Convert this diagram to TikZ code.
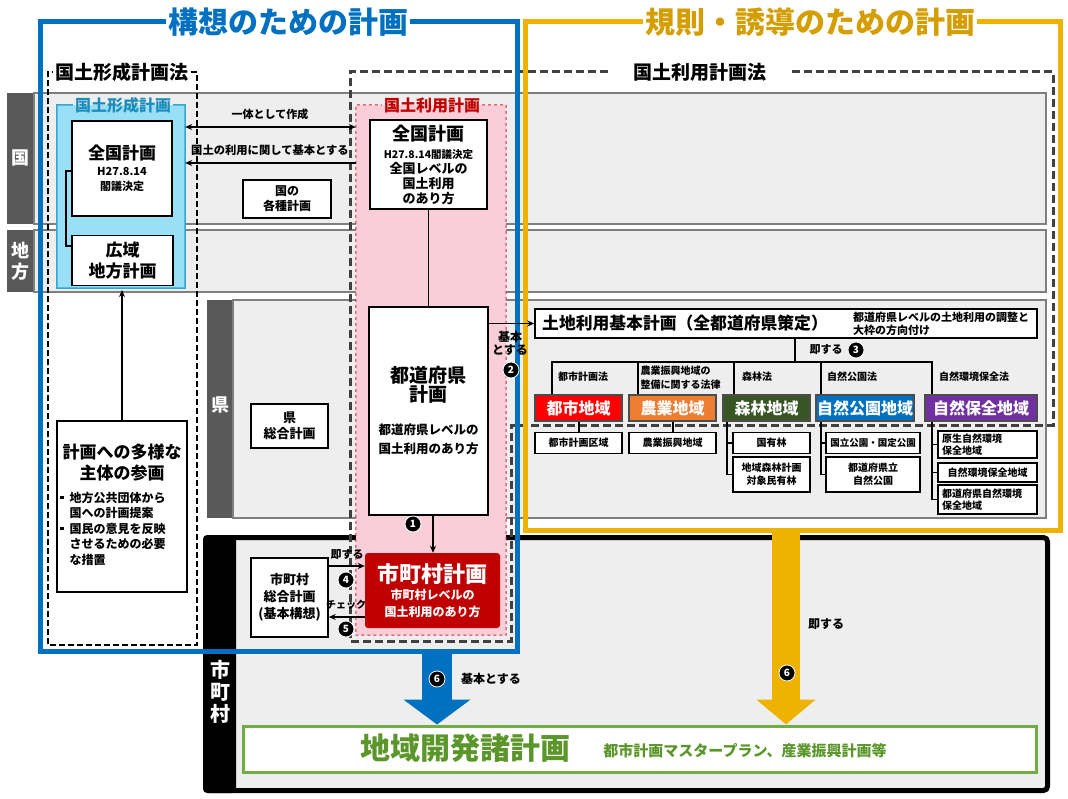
\documentclass[tikz,border=0pt]{standalone}
\usepackage{fontspec}
\setmainfont{Noto Sans CJK JP}
\usetikzlibrary{arrows.meta}
\definecolor{bblue}{HTML}{0070C0}
\definecolor{gold}{HTML}{EDB300}
\definecolor{goldtxt}{HTML}{D49E00}
\definecolor{bandfill}{HTML}{EEEEEE}
\definecolor{bandline}{HTML}{7F7F7F}
\definecolor{darklab}{HTML}{595959}
\definecolor{pinkfill}{HTML}{F9CED8}
\definecolor{pinkline}{HTML}{E0203C}
\definecolor{redttl}{HTML}{C00000}
\definecolor{cyanfill}{HTML}{99E0F7}
\definecolor{cyanline}{HTML}{2FA8D5}
\definecolor{cyanttl}{HTML}{1C8DBA}
\definecolor{dashgray}{HTML}{404040}
\definecolor{planred}{HTML}{C00000}
\definecolor{crimson}{HTML}{FF0000}
\definecolor{orng}{HTML}{ED7D31}
\definecolor{forest}{HTML}{375623}
\definecolor{purp}{HTML}{7030A0}
\definecolor{grn}{HTML}{70AD47}
\definecolor{grntxt}{HTML}{5A962A}
\newcommand\fz[2]{\fontsize{#1}{#2}\selectfont}
\begin{document}
\begin{tikzpicture}[x=1pt,y=-1pt,
 band/.style={draw=bandline, line width=1.5, fill=bandfill},
 rowlab/.style={text=white, font=\fz{18}{21}\bfseries, align=center, inner sep=0},
 box/.style={draw=black, line width=1.5, fill=white, align=center, inner sep=1},
 lbl/.style={font=\fz{11}{13}\bfseries, align=center, inner sep=0.5},
 cnum/.style={circle, fill=black, draw=white, line width=0.8, text=white, inner sep=0, minimum size=16, font=\fz{10}{10}\bfseries},
 conn/.style={draw=black, line width=1.3},
 arr/.style={conn, -{Stealth[length=7,width=6]}},
 dblarr/.style={conn, {Stealth[length=7,width=6]}-{Stealth[length=7,width=6]}},
 zone/.style={draw=black!70, line width=1.2, align=center, text=white, font=\fz{16}{18}\bfseries, inner sep=0},
 sub/.style={box, line width=1.2, font=\fz{10}{12}\bfseries, inner sep=0},
 ttl/.style={inner xsep=2, inner ysep=0},
]
\useasboundingbox (0,0) rectangle (1068,799);
\fill[white] (0,0) rectangle (1068,799);

% ---- bands
\fill[darklab] (7,93) rectangle (34,224);
\draw[band] (34,93) rectangle (1046,224);
\fill[darklab] (7,230) rectangle (34,292);
\draw[band] (34,230) rectangle (1046,292);
\fill[darklab] (207,300) rectangle (233,518);
\draw[band] (233,300) rectangle (1046,518);
\draw[line width=5, fill=bandfill, rounded corners=4] (205.5,537.5) rectangle (1047.5,790.5);
\fill[black, rounded corners=4] (203,535) rectangle (236,793);
\node[rowlab] (rKuni) at (20.5,158) {国};
\node[rowlab] (rChiho) at (20.5,261) {地\\方};
\node[rowlab] (rKen) at (220,405) {県};
\node[rowlab, font=\fz{20}{22}\bfseries] (rShi) at (220,692) {市\\町\\村};

% ---- regions
\node[fill=cyanfill, minimum width=128, minimum height=183, inner sep=0] (kfkreg) at (121,196.5) {};
\node[ttl, text=cyanttl, font=\fz{16}{18}\bfseries] (ttlC) at (123,105) {国土形成計画};
\draw[cyanline, line width=1.5] (ttlC.east) -| (kfkreg.south east) -| (kfkreg.north west) -- (ttlC.west);

\node[fill=pinkfill, minimum width=150, minimum height=530, inner sep=0] (pinkreg) at (431,370) {};
\node[ttl, text=redttl, font=\fz{16}{18}\bfseries] (ttlP) at (432,105) {国土利用計画};
\draw[pinkline, dashed, line width=1] (ttlP.east) -| (pinkreg.south east) -| (pinkreg.north west) -- (ttlP.west);

% ---- law frames
\node[ttl, font=\fz{19}{21}\bfseries] (lawA) at (122,72) {国土形成計画法};
\draw[black, line width=2, dash pattern=on 6pt off 3pt] (lawA.east) -| (197,645) -| (48,72) -- (lawA.west);
\node[ttl, inner xsep=25, font=\fz{19}{21}\bfseries] (lawB) at (700,72) {国土利用計画法};
\draw[dashgray, line width=3, dash pattern=on 8pt off 4pt] (lawB.east) -| (1053,425) -| (511,641) -| (350,72) -- (lawB.west);

% ---- main frames
\node[ttl, text=bblue, font=\fz{30}{32}\bfseries] (ttlA) at (288,22) {構想のための計画};
\draw[bblue, line width=5] (ttlA.east) -| (517,651) -| (40,22) -- (ttlA.west);
\node[ttl, text=goldtxt, font=\fz{30}{32}\bfseries] (ttlB) at (810,22) {規則・誘導のための計画};
\draw[gold, line width=5] (ttlB.east) -| (1060,530) -| (525,22) -- (ttlB.west);

% ---- left column
\node[box, minimum width=100, minimum height=95, font=\fz{11}{15}\bfseries] (zkL) at (122,168.5) {{\fz{17}{20}\selectfont 全国計画}\\[1pt]H27.8.14\\閣議決定};
\node[box, minimum width=101, minimum height=50, font=\fz{17}{21}\bfseries] (kouiki) at (122.5,260.5) {広域\\地方計画};
\draw[conn] (zkL.west |- 0,171) -| (66,246) -- (kouiki.west |- 0,246);
\node[box, minimum width=130, minimum height=171, inner sep=0] (tayou) at (122,506.5) {\begin{minipage}{124pt}\centering\fz{17}{21}\bfseries 計画への多様な\\主体の参画\par\vspace{9pt}\raggedright\fz{12}{15.5}\bfseries
\begin{tabular}{@{}l@{\hspace{6pt}}l@{}}\raisebox{3pt}{\rule{3.5pt}{3.5pt}} & 地方公共団体から\\ & 国への計画提案\\ \raisebox{3pt}{\rule{3.5pt}{3.5pt}} & 国民の意見を反映\\ & させるための必要\\ & な措置\end{tabular}\end{minipage}};
\coordinate (cyanB) at (122,290);
\draw[arr] (tayou.north) -- (cyanB);

% ---- national arrows
\draw[dblarr] (kfkreg.east |- 0,127) -- (pinkreg.west |- 0,127);
\node[lbl] (lIttai) at (270,114) {一体として作成};
\draw[arr] (pinkreg.west |- 0,163) -- (kfkreg.east |- 0,163);
\node[lbl, font=\fz{11.3}{13}\bfseries] (lKihon1) at (270,150) {国土の利用に関して基本とする};
\node[box, minimum width=88, minimum height=38, font=\fz{12}{15}\bfseries] (kakushu) at (287,199) {国の\\各種計画};

% ---- national land use plan column
\node[box, minimum width=117, minimum height=89, font=\fz{13}{15}\bfseries] (zkR) at (428.5,164.5) {{\fz{18}{20}\selectfont 全国計画}\\[3pt]{\fz{10.5}{12}\selectfont H27.8.14閣議決定}\\全国レベルの\\国土利用\\のあり方};
\node[box, minimum width=119, minimum height=208, font=\fz{12.5}{19}\bfseries] (todofuken) at (428.5,411) {{\fz{19}{22}\selectfont 都道府県}\\{\fz{19}{22}\selectfont 計画}\\[14pt]都道府県レベルの\\国土利用のあり方};
\draw[conn] (zkR.south) -- (todofuken.north);
\node[fill=planred, rounded corners=3, minimum width=135, minimum height=75, text=white, align=center, font=\fz{12}{17}\bfseries] (shichoson) at (432.5,590.5) {{\fz{22}{24}\selectfont 市町村計画}\\市町村レベルの\\国土利用のあり方};
\draw[arr] (todofuken.south -| 433,0) -- (shichoson.north -| 433,0);
\node[cnum] (n1) at (413,524) {1};

\node[box, minimum width=77, minimum height=44, font=\fz{13}{16}\bfseries] (kensougou) at (289.5,426) {県\\総合計画};
\node[box, minimum width=77, minimum height=79, font=\fz{13}{17}\bfseries] (sougou) at (289.5,597.5) {市町村\\総合計画\\(基本構想)};
\draw[arr] (sougou.east |- 0,566) -- (shichoson.west |- 0,566);
\draw[arr] (shichoson.west |- 0,617) -- (sougou.east |- 0,617);
\node[lbl] (lSoku1) at (347,555) {即する};
\node[cnum] (n4) at (346,580) {4};
\node[lbl, font=\fz{10}{12}\bfseries] (lCheck) at (346,605) {チェック};
\node[cnum] (n5) at (346,629) {5};

% ---- prefecture land use basic plan
\node[box, minimum width=502, minimum height=29, inner sep=0] (tochi) at (786,323.5) {};
\node[anchor=west, inner sep=0, font=\fz{16.8}{18}\bfseries] (tochiT) at (542,323.5) {土地利用基本計画（全都道府県策定）};
\node[anchor=west, inner sep=0, align=left, font=\fz{11}{13}\bfseries] (tochiN) at (853,323.5) {都道府県レベルの土地利用の調整と\\大枠の方向付け};
\draw[arr] (todofuken.east |- tochi.west) -- (tochi.west);
\node[lbl, font=\fz{12}{13}\bfseries] (lKihon2) at (510,343) {基本\\とする};
\node[cnum] (n2) at (511,370) {2};

\node[zone, fill=crimson, minimum width=87, minimum height=26] (toshi) at (578.5,408) {都市地域};
\node[zone, fill=orng, minimum width=87, minimum height=26] (nogyo) at (672.5,408) {農業地域};
\node[zone, fill=forest, minimum width=87, minimum height=26] (shinrin) at (766.5,408) {森林地域};
\node[zone, fill=bblue, minimum width=98, minimum height=26] (koen) at (865,408) {自然公園地域};
\node[zone, fill=purp, minimum width=112, minimum height=26] (hozen) at (981,408) {自然保全地域};

\draw[conn] (tochi.south -| 795,0) -- (795,362);
\draw[conn] (toshi.north -| 552,0) -- (552,362) -- (932,362) -- (hozen.north -| 932,0);
\draw[conn] (nogyo.north -| 638,0) -- (638,362);
\draw[conn] (shinrin.north -| 734,0) -- (734,362);
\draw[conn] (koen.north -| 821,0) -- (821,362);
\node[lbl] (lSoku3) at (826,350) {即する};
\node[cnum] (n3) at (856,350) {3};

\node[lbl, font=\fz{10}{12}\bfseries] (lawToshi) at (583,377) {都市計画法};
\node[lbl, font=\fz{10}{14}\bfseries, align=left, anchor=west] (lawNogyo) at (640,378) {農業振興地域の\\整備に関する法律};
\node[lbl, font=\fz{10}{12}\bfseries] (lawShin) at (757,377) {森林法};
\node[lbl, font=\fz{10}{12}\bfseries] (lawKoen) at (852,377) {自然公園法};
\node[lbl, font=\fz{10}{12}\bfseries] (lawHozen) at (974,377) {自然環境保全法};

\node[sub, minimum width=87, minimum height=21] (tkk) at (578.5,443) {都市計画区域};
\node[sub, minimum width=87, minimum height=21] (nsk) at (672.5,443) {農業振興地域};
\draw[conn] (toshi.south -| 579,0) -- (tkk.north -| 579,0);
\draw[conn] (nogyo.south -| 673,0) -- (nsk.north -| 673,0);

\node[sub, minimum width=77, minimum height=21] (kokuyu) at (771.5,443) {国有林};
\node[sub, minimum width=77, minimum height=35, font=\fz{10}{13}\bfseries] (minyu) at (771.5,474.5) {地域森林計画\\対象民有林};
\draw[conn] (kokuyu.west) -| (shinrin.south -| 727,0);
\draw[conn] (minyu.west) -| (shinrin.south -| 727,0);

\node[sub, minimum width=94, minimum height=21, font=\fz{9.5}{12}\bfseries] (kokuritsu) at (873,443) {国立公園・国定公園};
\node[sub, minimum width=94, minimum height=35, font=\fz{10}{13}\bfseries] (kenritsu) at (873,474.5) {都道府県立\\自然公園};
\draw[conn] (kokuritsu.west) -| (koen.south -| 821,0);
\draw[conn] (kenritsu.west) -| (koen.south -| 821,0);

\node[sub, minimum width=99, minimum height=27, align=left, text width=91, inner xsep=4, font=\fz{10}{12}\bfseries] (gensei) at (987.5,444.5) {原生自然環境\\保全地域};
\node[sub, minimum width=99, minimum height=19] (shizen) at (987.5,472.5) {自然環境保全地域};
\node[sub, minimum width=99, minimum height=29, align=left, text width=91, inner xsep=4, font=\fz{10}{12}\bfseries] (kenshizen) at (987.5,499.5) {都道府県自然環境\\保全地域};
\draw[conn] (gensei.west) -| (hozen.south -| 932,0);
\draw[conn] (shizen.west) -| (hozen.south -| 932,0);
\draw[conn] (kenshizen.west) -| (hozen.south -| 932,0);

% ---- municipal development plans
\node[draw=grn, line width=3, fill=white, minimum width=793, minimum height=46, inner sep=0] (kaihatsu) at (639.5,749) {};
\node[text=grntxt, inner sep=0, font=\fz{30}{32}\bfseries] (kaihatsuT) at (465,748) {地域開発諸計画};
\node[text=grntxt, inner sep=0, font=\fz{15}{16}\bfseries] (kaihatsuN) at (745,751) {都市計画マスタープラン、産業振興計画等};

\coordinate (blueB) at (437,649);
\draw[line width=30, bblue, -{Triangle[width=66pt,length=25pt]}] (blueB) -- (kaihatsu.north -| blueB);
\coordinate (goldB) at (786,528);
\draw[line width=28, gold, -{Triangle[width=58pt,length=25pt]}] (goldB) -- (kaihatsu.north -| goldB);
\node[cnum] (n6a) at (437,679) {6};
\node[lbl, font=\fz{12}{13}\bfseries] (lKihon3) at (491,679) {基本とする};
\node[cnum] (n6b) at (787,673) {6};
\node[lbl, font=\fz{12}{13}\bfseries] (lSoku6) at (826,624) {即する};
\end{tikzpicture}
\end{document}
